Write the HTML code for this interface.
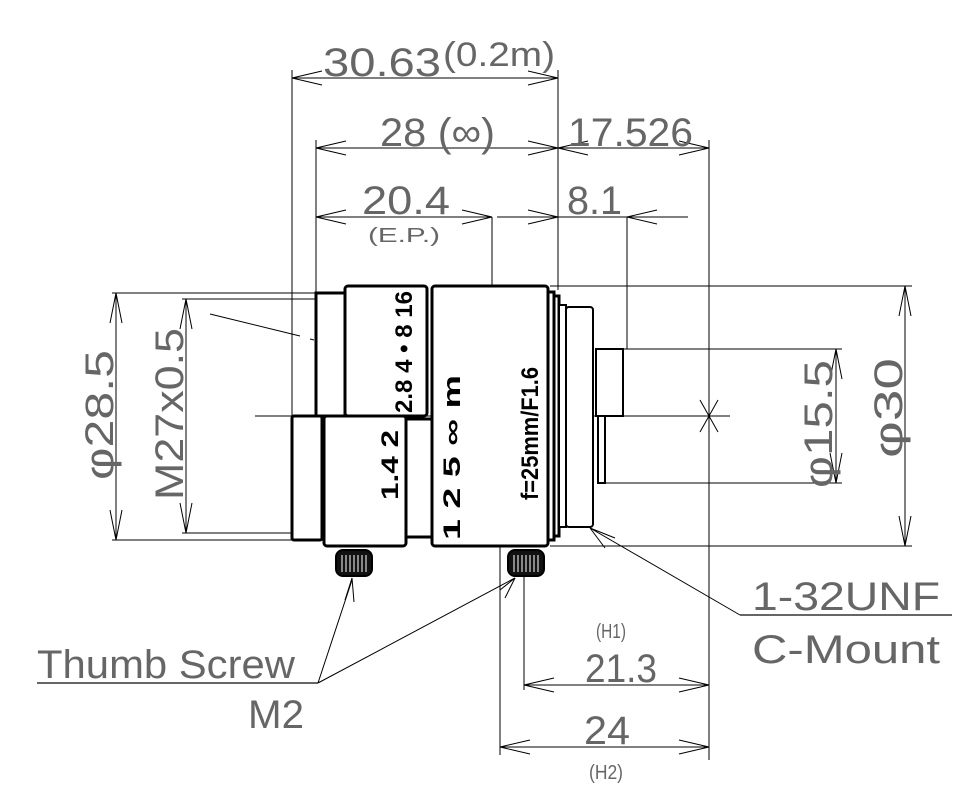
<!DOCTYPE html>
<html><head><meta charset="utf-8"><style>
html,body{margin:0;padding:0;background:#fff;}
svg{display:block;}
.t{font-family:"Liberation Sans",sans-serif;fill:#666;font-weight:normal;}
.b{font-family:"Liberation Sans",sans-serif;fill:#000;font-weight:bold;}
</style></head><body>
<svg width="978" height="806" viewBox="0 0 978 806" xmlns="http://www.w3.org/2000/svg">
<g stroke="#000" stroke-width="1" fill="none">
<line x1="292" y1="70" x2="292" y2="416"/>
<line x1="316" y1="140" x2="316" y2="293"/>
<line x1="558" y1="70" x2="558" y2="290"/>
<line x1="709" y1="140" x2="709" y2="760"/>
<line x1="292" y1="78" x2="558" y2="78"/>
<path d="M322 71 L292 78 L322 85 M528 71 L558 78 L528 85"/>
<line x1="316" y1="148" x2="709" y2="148"/>
<path d="M346 141 L316 148 L346 155 M528 141 L558 148 L528 155 M588 141 L558 148 L588 155 M679 141 L709 148 L679 155"/>
<line x1="316" y1="217" x2="492" y2="217"/>
<line x1="497" y1="217" x2="688" y2="217"/>
<path d="M346 210 L316 217 L346 224 M462 210 L492 217 L462 224 M528 210 L558 217 L528 224 M657 210 L627 217 L657 224"/>
<line x1="492" y1="217" x2="492" y2="430" stroke-dasharray="180 6 10 6"/>
<line x1="627" y1="217" x2="627" y2="349"/>
<line x1="550" y1="286" x2="912" y2="286"/>
<line x1="550" y1="546" x2="912" y2="546"/>
<line x1="623" y1="349" x2="842" y2="349"/>
<line x1="605" y1="483" x2="842" y2="483"/>
<line x1="112" y1="293" x2="316" y2="293"/>
<line x1="112" y1="540" x2="292" y2="540"/>
<line x1="182" y1="299" x2="316" y2="299"/>
<line x1="182" y1="533" x2="292" y2="533"/>
<line x1="116" y1="293" x2="116" y2="540"/>
<path d="M110 323 L116 293 L122 323 M110 510 L116 540 L122 510"/>
<line x1="186" y1="299" x2="186" y2="533"/>
<path d="M180 329 L186 299 L192 329 M180 503 L186 533 L192 503"/>
<line x1="905" y1="286" x2="905" y2="546"/>
<path d="M899 316 L905 286 L911 316 M899 516 L905 546 L911 516"/>
<line x1="836" y1="349" x2="836" y2="483"/>
<path d="M830 379 L836 349 L842 379 M830 453 L836 483 L842 453"/>
<line x1="255" y1="416" x2="730" y2="416"/>
<line x1="709" y1="290" x2="709" y2="560" stroke-dasharray="80 6 10 6"/>
<path d="M700 400 L718 432 M700 432 L718 400"/>
<line x1="500" y1="410" x2="500" y2="755"/>
<line x1="524" y1="560" x2="524" y2="690"/>
<path d="M210 314 L300 336" />
<path d="M310 339 L314 340 M325 343 L380 350"/>
<path d="M380 348 Q374 380 374 416"/>
<line x1="524" y1="685" x2="709" y2="685"/>
<path d="M554 678 L524 685 L554 692 M679 678 L709 685 L679 692"/>
<line x1="500" y1="747" x2="709" y2="747"/>
<path d="M530 740 L500 747 L530 754 M679 740 L709 747 L679 754"/>
<line x1="37" y1="683" x2="318" y2="683" stroke="#666" stroke-width="2"/>
<path d="M318 683 L352 580 M318 683 L515 578"/>
<path d="M345 600 L352 578 L354 602 M500 590 L515 578 L505 598"/>
<line x1="740" y1="615" x2="952" y2="615" stroke="#666" stroke-width="2"/>
<path d="M740 615 L590 528 M590 528 L615 538 M590 528 L605 548"/>
</g>
<g stroke="#000" stroke-width="3" fill="#fff">
<rect x="316" y="293" width="29" height="123"/>
<rect x="345" y="286" width="82" height="130" rx="3"/>
<rect x="292" y="416" width="30" height="124" rx="2"/>
<rect x="324" y="416" width="82" height="130" rx="3"/>
<rect x="406" y="419" width="26" height="118"/>
<rect x="432" y="286" width="116" height="260" rx="3"/>
<rect x="548" y="292" width="6" height="248"/>
<rect x="554" y="296" width="5" height="240"/>
<rect x="559" y="305" width="7" height="222" stroke-width="2"/>
<rect x="566" y="307" width="27" height="220" rx="3" stroke-width="2"/>
<rect x="596" y="349" width="27" height="67" stroke-width="2"/>
<rect x="598" y="416" width="7" height="67" stroke-width="2"/>
</g>
<g stroke="#000" stroke-width="2">
<rect x="336" y="550" width="36" height="26" rx="7" fill="#111"/>
<rect x="508" y="550" width="36" height="26" rx="7" fill="#111"/>
<path d="M342 555V572M346 555V572M350 555V572M354 555V572M358 555V572M362 555V572M366 555V572" stroke="#fff" stroke-width="1"/>
<path d="M514 555V572M518 555V572M522 555V572M526 555V572M530 555V572M534 555V572M538 555V572" stroke="#fff" stroke-width="1"/>
</g>
<g class="t" font-size="40">
<text x="323" y="76" textLength="118" lengthAdjust="spacingAndGlyphs">30.63</text>
<text x="443" y="66" font-size="34" textLength="112" lengthAdjust="spacingAndGlyphs">(0.2m)</text>
<text x="380" y="146" textLength="115" lengthAdjust="spacingAndGlyphs">28 (∞)</text>
<text x="568" y="146" textLength="125" lengthAdjust="spacingAndGlyphs">17.526</text>
<text x="362" y="214" textLength="88" lengthAdjust="spacingAndGlyphs">20.4</text>
<text x="368" y="242" font-size="20" textLength="72" lengthAdjust="spacingAndGlyphs">(E.P.)</text>
<text x="567" y="214" textLength="55" lengthAdjust="spacingAndGlyphs">8.1</text>
<text x="596" y="638" font-size="20" textLength="30" lengthAdjust="spacingAndGlyphs">(H1)</text>
<text x="585" y="682" textLength="72" lengthAdjust="spacingAndGlyphs">21.3</text>
<text x="584" y="744" textLength="46" lengthAdjust="spacingAndGlyphs">24</text>
<text x="589" y="779" font-size="20" textLength="34" lengthAdjust="spacingAndGlyphs">(H2)</text>
<text x="752" y="610" textLength="188" lengthAdjust="spacingAndGlyphs">1-32UNF</text>
<text x="752" y="663" textLength="188" lengthAdjust="spacingAndGlyphs">C-Mount</text>
<text x="37" y="678" textLength="258" lengthAdjust="spacingAndGlyphs">Thumb Screw</text>
<text x="248" y="728" textLength="56" lengthAdjust="spacingAndGlyphs">M2</text>
<text transform="translate(113,480) rotate(-90)" textLength="130" lengthAdjust="spacingAndGlyphs">φ28.5</text>
<text transform="translate(183,500) rotate(-90)" textLength="172" lengthAdjust="spacingAndGlyphs">M27x0.5</text>
<text transform="translate(832,488) rotate(-90)" textLength="128" lengthAdjust="spacingAndGlyphs">φ15.5</text>
<text transform="translate(902,458) rotate(-90)" textLength="100" lengthAdjust="spacingAndGlyphs">φ30</text>
</g>
<g class="b" font-size="24">
<text transform="translate(412,413) rotate(-90)" textLength="122" lengthAdjust="spacingAndGlyphs">2.8 4 • 8 16</text>
<text transform="translate(398,500) rotate(-90)" textLength="70" lengthAdjust="spacingAndGlyphs">1.4    2</text>
<text transform="translate(460,540) rotate(-90)" textLength="165" lengthAdjust="spacingAndGlyphs">1   2   5  ∞  m</text>
<text transform="translate(538,500) rotate(-90)" textLength="133" lengthAdjust="spacingAndGlyphs">f=25mm/F1.6</text>
</g>
</svg>
</body></html>
